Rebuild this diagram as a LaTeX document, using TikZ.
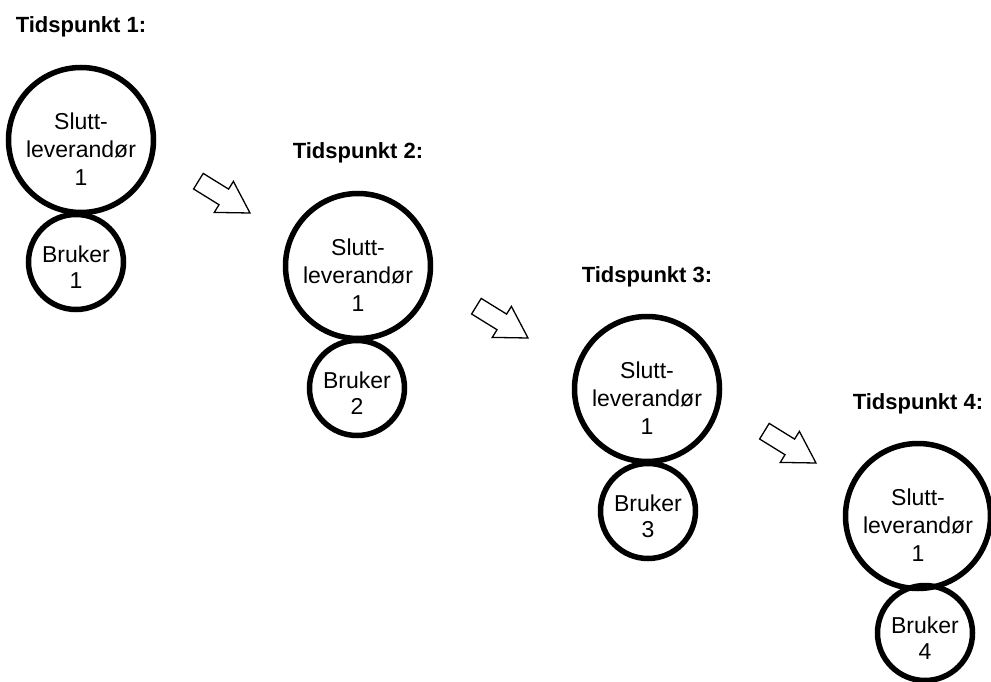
\documentclass[tikz,border=0pt]{standalone}
\usepackage{fontspec}
\setmainfont{Liberation Sans}
\begin{document}
\begin{tikzpicture}[x=1pt,y=-1pt,
  every node/.style={inner sep=0pt, outer sep=0pt},
  bigcirc/.style={circle, draw, line width=5.5pt, minimum size=145pt},
  smallcirc/.style={circle, draw, line width=5.5pt, minimum size=95pt},
  bigtext/.style={align=center, font=\fontsize{23}{28}\selectfont},
  smalltext/.style={align=center, font=\fontsize{23}{26}\selectfont},
  titletext/.style={anchor=base, font=\fontsize{22}{26}\selectfont\bfseries},
  blockarrow/.style={draw, line width=1.3pt, fill=white, line join=miter}
]
\useasboundingbox (0,0) rectangle (991,682);

% one supplier circle with its user below, for each point in time
\foreach \n/\cx/\cy/\sx/\sy in {1/81/140/76/262, 2/358/266/357/388,
                                3/647/389/648/511, 4/918/516/925/633} {
  \node[smallcirc] (user\n) at (\sx,\sy) {};
  \node[bigcirc] (sup\n) at (\cx,\cy) {};
  \node[bigtext, yshift=-9pt] (suptext\n) at (sup\n.center) {Slutt-\\leverandør\\1};
  \node[smalltext, yshift=-5pt] (usertext\n) at (user\n.center) {Bruker\\\n};
  \node[titletext] (time\n) at (\cx,\cy-107) {Tidspunkt \n:};
}

% hollow block arrows between the points in time
\foreach \n/\tx/\ty in {1/250/213, 2/528/338, 3/816/463} {
  \coordinate (tip\n) at (\tx,\ty);
  \draw[blockarrow, shift={(\tx,\ty)}]
    (0,0) -- (-16.6,-31.6) -- (-21.4,-23.9) -- (-46.8,-39.6)
    -- (-56.4,-24.0) -- (-31.0,-8.3) -- (-35.7,-0.6) -- cycle;
}
\end{tikzpicture}
\end{document}
